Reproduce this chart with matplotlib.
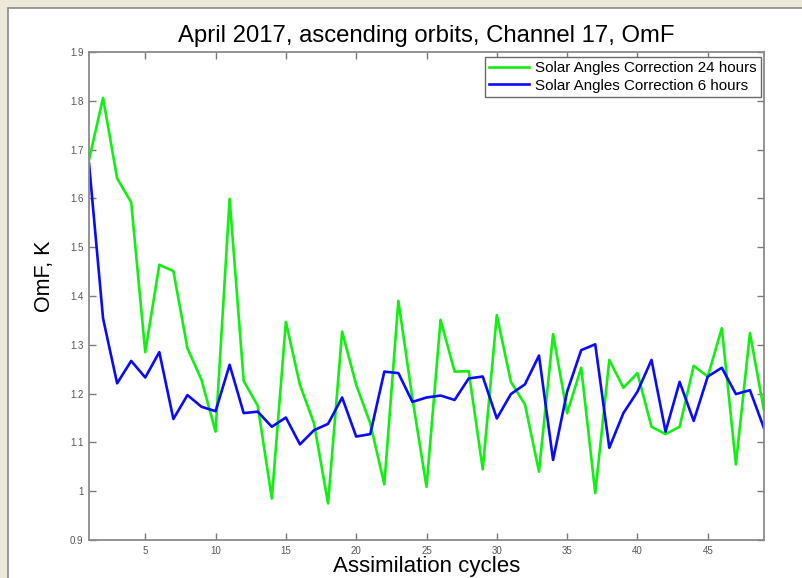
import numpy as np
import matplotlib.pyplot as plt
from matplotlib.patches import Rectangle

plt.rcParams['font.family'] = ['Liberation Sans', 'DejaVu Sans']

# assimilation cycle index
cycles = np.arange(1, 50)

# OmF, solar angles correction updated every 24 hours
omf_24h = [1.679, 1.806, 1.641, 1.592, 1.285, 1.464, 1.451, 1.293, 1.228, 1.122,
           1.599, 1.226, 1.175, 0.985, 1.347, 1.218, 1.139, 0.975, 1.327, 1.218,
           1.139, 1.014, 1.390, 1.190, 1.009, 1.351, 1.245, 1.246, 1.045, 1.361,
           1.224, 1.178, 1.040, 1.322, 1.160, 1.253, 0.996, 1.269, 1.212, 1.242,
           1.132, 1.117, 1.132, 1.257, 1.235, 1.334, 1.055, 1.324, 1.165]

# OmF, solar angles correction updated every 6 hours
omf_6h = [1.672, 1.354, 1.221, 1.267, 1.233, 1.285, 1.148, 1.197, 1.173, 1.164,
          1.259, 1.160, 1.163, 1.132, 1.151, 1.096, 1.125, 1.138, 1.192, 1.112,
          1.117, 1.245, 1.242, 1.183, 1.192, 1.196, 1.187, 1.231, 1.235, 1.149,
          1.199, 1.219, 1.278, 1.064, 1.204, 1.289, 1.301, 1.089, 1.160, 1.204,
          1.269, 1.122, 1.224, 1.144, 1.235, 1.253, 1.199, 1.207, 1.129]

labels = ['Solar Angles Correction 24 hours', 'Solar Angles Correction 6 hours']
xticks = [5, 10, 15, 20, 25, 30, 35, 40, 45]
yticks = [0.9, 1.0, 1.1, 1.2, 1.3, 1.4, 1.5, 1.6, 1.7, 1.8, 1.9]
ytick_labels = ['0.9', '1', '1.1', '1.2', '1.3', '1.4', '1.5', '1.6', '1.7', '1.8', '1.9']

W, H = 802, 578
fig = plt.figure(figsize=(W / 100, H / 100), dpi=100, facecolor='#ece9d8')

# white figure window with a grey frame on the left and top (runs off the bottom/right)
fig.patches.append(Rectangle((8 / W, -0.1), 1.1, 1.1 - 8 / H, transform=fig.transFigure,
                             facecolor='white', edgecolor='#8a8a8a', linewidth=1.2,
                             zorder=-5))

ax = fig.add_axes([89 / W, 1 - 540 / H, (764 - 89) / W, (540 - 52) / H])
ax.plot(cycles, omf_24h, color='#11f011', linewidth=1.9, label=labels[0])
ax.plot(cycles, omf_6h, color='#0a0aff', linewidth=1.9, label=labels[1])

ax.set_xlim(1, 49)
ax.set_ylim(0.9, 1.9)
ax.set_xticks(xticks)
ax.set_yticks(yticks)
ax.set_yticklabels(ytick_labels)

ax.tick_params(direction='in', top=True, right=True, length=5, width=1,
               color='#7a7a7a', labelsize=7, labelcolor='#555555', pad=4)
for sp in ax.spines.values():
    sp.set_color('#8a8a8a')
    sp.set_linewidth(1.3)

ax.set_title('April 2017, ascending orbits, Channel 17, OmF', fontsize=17.2, pad=7)
ax.set_ylabel('OmF, K', fontsize=15.5)
ax.yaxis.set_label_coords(-0.05, 0.54)
ax.set_xlabel('Assimilation cycles', fontsize=16)
ax.xaxis.set_label_coords(0.5, -0.033)
ax.xaxis.label.set_verticalalignment('top')

leg = ax.legend(loc='upper right', bbox_to_anchor=(0.9955, 0.99), fontsize=10.9,
                frameon=True, fancybox=False, framealpha=1, borderpad=0.3,
                handlelength=2.6, handletextpad=0.4, labelspacing=0.22,
                borderaxespad=0)
leg.get_frame().set_edgecolor('#6a6a6a')
leg.get_frame().set_linewidth(1.0)

fig.savefig('out.png', dpi=100, facecolor=fig.get_facecolor())
